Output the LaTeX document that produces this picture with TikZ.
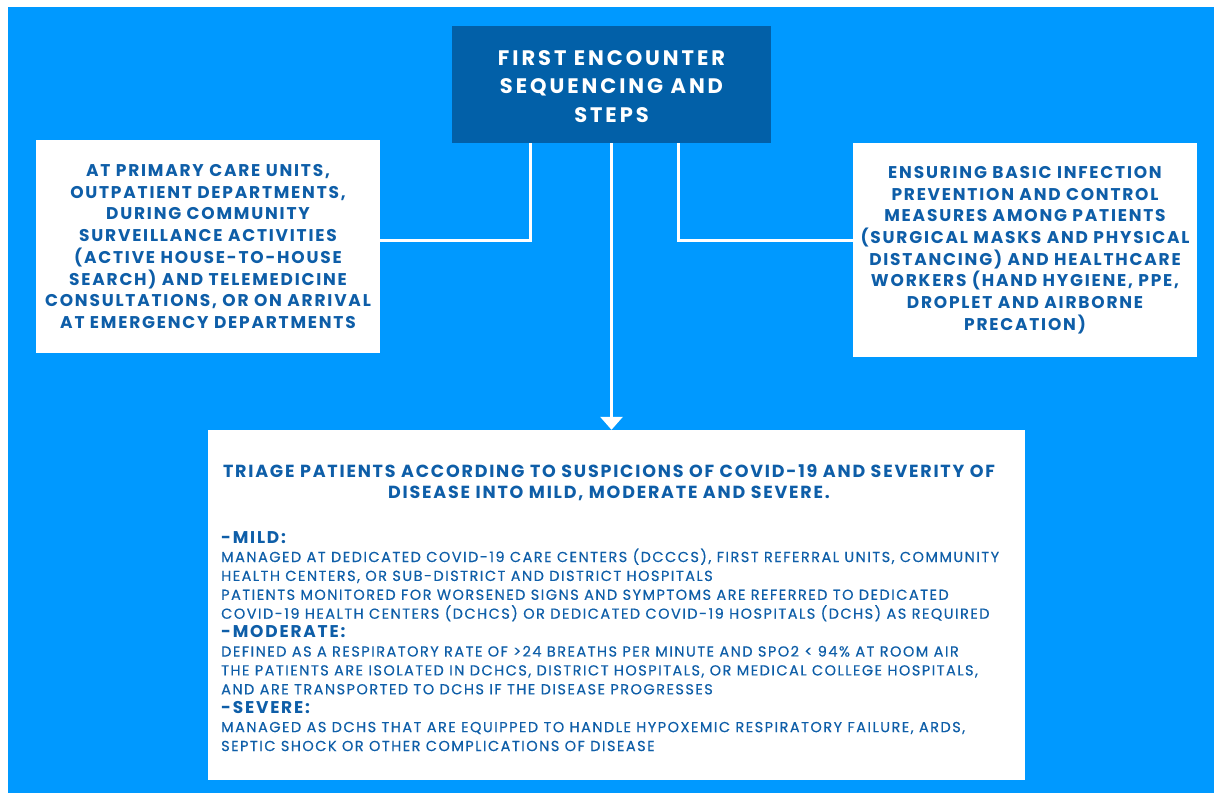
\documentclass[tikz,border=0pt]{standalone}
\usepackage{fontspec}
\setmainfont{Poppins}
% tracked variants of the same family
\newfontfamily\headtrack[LetterSpace=14]{Poppins}
\newfontfamily\boxtrack[LetterSpace=10.5]{Poppins}
\newfontfamily\triagetrack[LetterSpace=10.2]{Poppins}
\newfontfamily\bodytrack[LetterSpace=10.2,FakeBold=0.4]{Poppins}
\usetikzlibrary{arrows.meta}
\definecolor{skyblue}{RGB}{0,153,255}
\definecolor{headblue}{RGB}{2,96,168}
\definecolor{inkblue}{RGB}{14,94,168}
\newcommand{\grade}[1]{{\boxtrack\fontsize{17}{18.9}\selectfont\bfseries #1}}
\tikzset{
  headbox/.style={fill=headblue, draw=none, text=white, align=center,
    font=\headtrack\fontsize{21}{28.5}\selectfont\bfseries},
  whitebox/.style={fill=white, draw=none, text=inkblue, align=center,
    font=\boxtrack\fontsize{17}{21.7}\selectfont\bfseries},
  conn/.style={draw=white, line width=3pt},
  connarrow/.style={conn, -{Triangle[width=22pt,length=13pt]}},
}
\begin{document}
\begin{tikzpicture}[x=1pt,y=-1pt]
  % canvas with a thin white margin on the left and top
  \useasboundingbox (0,0) rectangle (1214,793);
  \fill[white] (0,0) rectangle (1214,793);
  \fill[skyblue] (8,7) rectangle (1214,793);

  % top heading box
  \node[headbox, minimum width=319pt, minimum height=117pt] (title) at (611.5,84.5) {};
  \node[headbox, fill=none, inner sep=0pt] (titletext) at (611.5,86.5)
    {FIRST ENCOUNTER\\SEQUENCING AND\\STEPS};

  % side boxes
  \node[whitebox, minimum width=344pt, minimum height=213pt] (left) at (208,246.5)
    {AT PRIMARY CARE UNITS,\\OUTPATIENT DEPARTMENTS,\\DURING COMMUNITY\\SURVEILLANCE ACTIVITIES\\(ACTIVE HOUSE-TO-HOUSE\\SEARCH) AND TELEMEDICINE\\CONSULTATIONS, OR ON ARRIVAL\\AT EMERGENCY DEPARTMENTS};
  \node[whitebox, minimum width=344pt, minimum height=214pt] (right) at (1025,250)
    {ENSURING BASIC INFECTION\\PREVENTION AND CONTROL\\MEASURES AMONG PATIENTS\\(SURGICAL MASKS AND PHYSICAL\\DISTANCING) AND HEALTHCARE\\WORKERS (HAND HYGIENE, PPE,\\DROPLET AND AIRBORNE\\PRECATION)};

  % triage box
  \node[fill=white, minimum width=817pt, minimum height=350pt] (triage) at (616.5,605) {};
  \node[text=inkblue, align=center, font=\triagetrack\fontsize{17.5}{21}\selectfont\bfseries]
    (triagehead) at (609,482.5)
    {TRIAGE PATIENTS ACCORDING TO SUSPICIONS OF COVID-19 AND SEVERITY OF\\DISEASE INTO MILD, MODERATE AND SEVERE.};
  \node[text=inkblue, align=left, anchor=north west, inner sep=0pt,
        font=\bodytrack\fontsize{14.5}{18.9}\selectfont] (triagebody) at (221,531)
    {\grade{-MILD:}\\
     MANAGED AT DEDICATED COVID-19 CARE CENTERS (DCCCS), FIRST REFERRAL UNITS, COMMUNITY\\
     HEALTH CENTERS, OR SUB-DISTRICT AND DISTRICT HOSPITALS\\
     PATIENTS MONITORED FOR WORSENED SIGNS AND SYMPTOMS ARE REFERRED TO DEDICATED\\
     COVID-19 HEALTH CENTERS (DCHCS) OR DEDICATED COVID-19 HOSPITALS (DCHS) AS REQUIRED\\
     \grade{-MODERATE:}\\
     DEFINED AS A RESPIRATORY RATE OF >24 BREATHS PER MINUTE AND SPO2 < 94\% AT ROOM AIR\\
     THE PATIENTS ARE ISOLATED IN DCHCS, DISTRICT HOSPITALS, OR MEDICAL COLLEGE HOSPITALS,\\
     AND ARE TRANSPORTED TO DCHS IF THE DISEASE PROGRESSES\\
     \grade{-SEVERE:}\\
     MANAGED AS DCHS THAT ARE EQUIPPED TO HANDLE HYPOXEMIC RESPIRATORY FAILURE, ARDS,\\
     SEPTIC SHOCK OR OTHER COMPLICATIONS OF DISEASE};

  % connectors
  \coordinate (lj) at (530,240);
  \coordinate (rj) at (678,240);
  \draw[conn] (title.south -| lj) |- (left.east |- lj);
  \draw[conn] (title.south -| rj) |- (right.west |- rj);
  \draw[connarrow] (title.south) -- (title.south |- triage.north);
\end{tikzpicture}
\end{document}
